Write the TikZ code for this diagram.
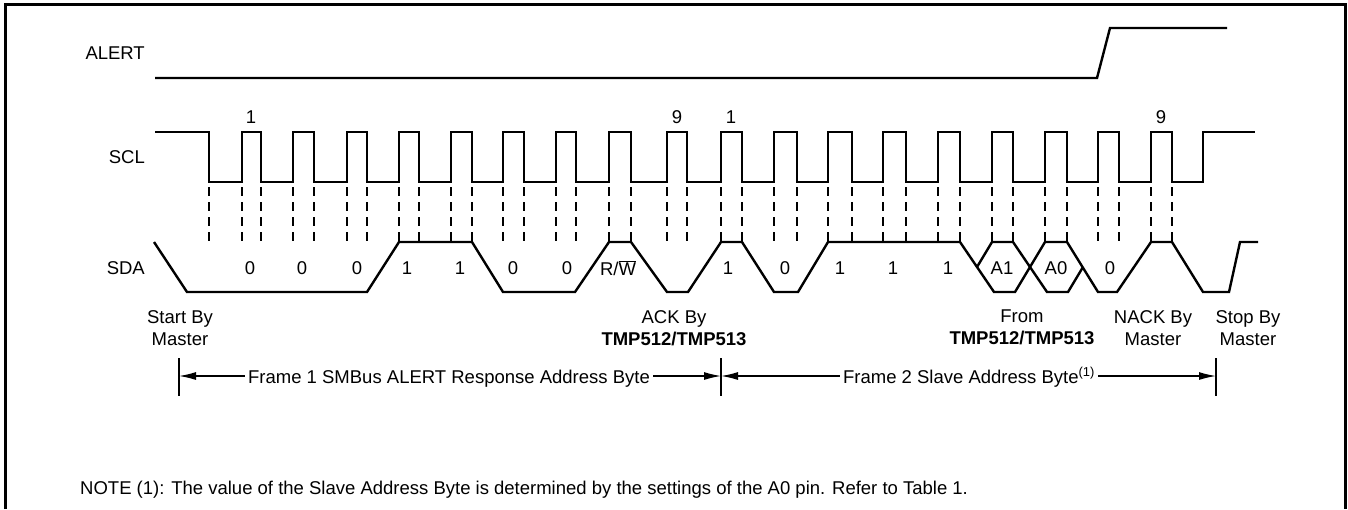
\documentclass[tikz,border=0pt]{standalone}
\usepackage{fontspec}
\setmainfont{Liberation Sans}
\usetikzlibrary{arrows.meta}

\begin{document}
\begin{tikzpicture}[x=1pt,y=-1pt,>={Latex[length=17pt,width=8pt]},font=\fontsize{18.5}{22}\selectfont,
 sig/.style={line width=2.4pt},
 guide/.style={line width=1.1pt,dash pattern=on 9pt off 6pt},
 dim/.style={line width=1.3pt},
 whobox/.style={align=center,anchor=north,inner sep=0pt}]
\useasboundingbox (0,0) rectangle (1348,509);
% frame, open at the bottom
\draw[line width=3pt] (5,509) -- (5,4) -- (1345,4) -- (1345,509);
% signal names
\node[anchor=east,inner sep=0pt] (alert) at (145,53) {ALERT};
\node[anchor=east,inner sep=0pt] (scl) at (145,157) {SCL};
\node[anchor=east,inner sep=0pt] (sda) at (145,268) {SDA};
% ALERT
\draw[sig] (155,78) -- (1097,78) -- (1110,28) -- (1227,28);
% SCL
\draw[sig] (155,132) -| (209,182)
 foreach \r/\f in {242/261,293/314,347/367,399/419,451/472,503/524,556/576,609/631,667/687,
  721/742,774/797,828/852,883/906,938/960,992/1013,1045/1067,1098/1119,1151/1172}
 { -| (\r,132) -| (\f,182) }
 -| (1203,132) -- (1255,132);
\foreach \x/\n in {251/1,677/9,731/1,1161/9}
 \node (n\x) at (\x,117) {\n};
% guides
\foreach \x in {209,242,261,293,314,347,367,399,419,451,472,503,524,556,576,609,631,667,687,
  721,742,774,797,828,852,883,906,938,960,992,1013,1045,1067,1098,1119,1151,1172}
 \draw[guide] (\x,187) -- (\x,243);
% SDA
\draw[sig] (154,242) -- (187,292) -- (367,292) -- (399,242) -- (472,242) -- (503,292)
 -- (575,292) -- (609,242) -- (631,242) -- (667,292) -- (688,292) -- (721,242)
 -- (742,242) -- (774,292) -- (798,292) -- (828,242) -- (960,242) -- (994,292)
 -- (1015,292) -- (1045,242) -- (1067,242) -- (1098,292) -- (1117,292) -- (1151,242)
 -- (1172,242) -- (1203,292) -- (1229,292) -- (1240,242) -- (1258,242);
\draw[sig] (977,267) -- (992,242) -- (1013,242) -- (1047,292) -- (1068,292) -- (1083,267);
\foreach \x/\b in {250/0,302/0,357/0,407/1,460/1,513/0,567/0,728/1,785/0,840/1,893/1,948/1,
  1002/A1,1056/A0,1110/0}
 \node (b\x) at (\x,268) {\b};
\node (rw) at (618,268) {R/$\overline{\hbox{W}}$};
% who drives
\node[whobox] (start) at (180,310) {Start By\\Master};
\node[whobox] (ack) at (674,310) {ACK By\\\textbf{TMP512/TMP513}};
\node[whobox] (from) at (1022,310) {From\\\textbf{TMP512/TMP513}};
\node[whobox] (nack) at (1153,310) {NACK By\\Master};
\node[whobox] (stop) at (1248,310) {Stop By\\Master};
% frames
\coordinate (t1) at (179,376);
\coordinate (t2) at (721,376);
\coordinate (t3) at (1216,376);
\foreach \x in {179,721,1216}
 \draw[dim] (\x,358) -- (\x,396);
\node[anchor=base,inner sep=3pt] (f1) at (449,383) {Frame 1 SMBus ALERT Response Address Byte};
\node[anchor=base,inner sep=3pt] (f2) at (969,383) {Frame 2 Slave Address Byte\textsuperscript{(1)}};
\draw[dim,->] (f1.west|-t1) -- (t1);
\draw[dim,->] (f1.east|-t1) -- (t2);
\draw[dim,->] (f2.west|-t2) -- (t2);
\draw[dim,->] (f2.east|-t3) -- (t3);
\node[anchor=base west,inner sep=0pt] (note) at (80,494) {NOTE (1): The value of the Slave Address Byte is determined by the settings of the A0 pin. Refer to Table 1.};
\end{tikzpicture}
\end{document}
